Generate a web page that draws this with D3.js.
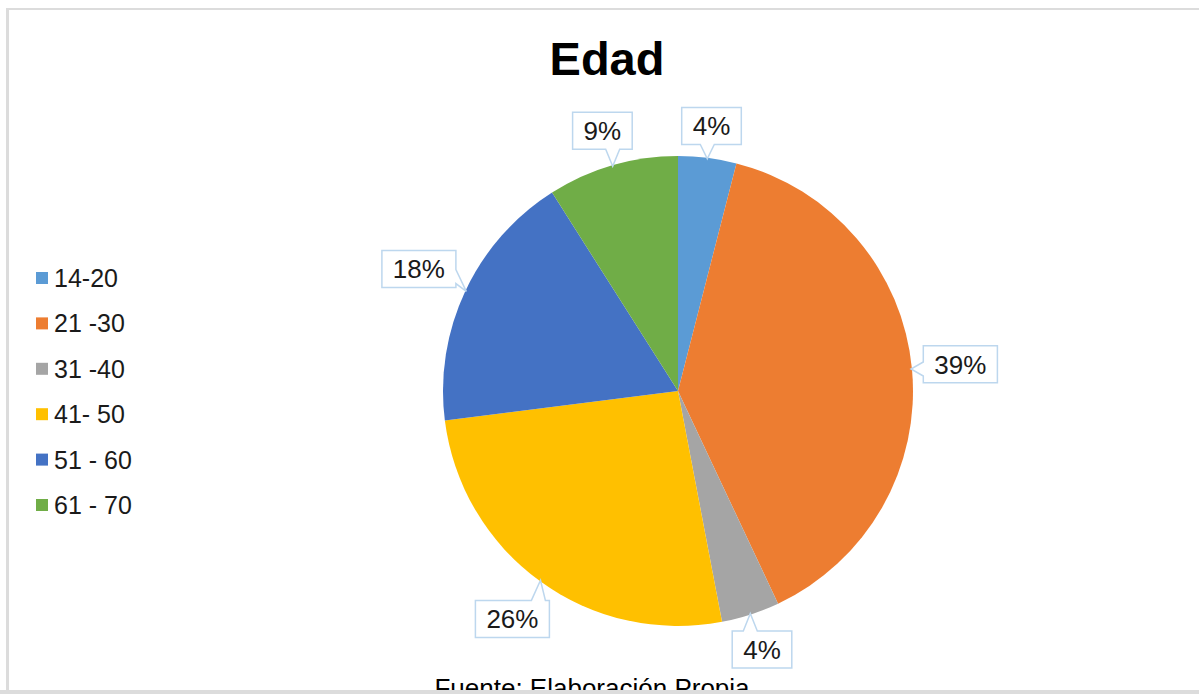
<!DOCTYPE html>
<html>
<head>
<meta charset="utf-8">
<script src="https://cdn.jsdelivr.net/npm/d3@7"></script>
<style>
  html, body { margin: 0; padding: 0; background: #fff; }
  svg { display: block; }
  text { font-family: "Liberation Sans", Arial, sans-serif; }
</style>
</head>
<body>
<svg id="chart" width="1199" height="694"></svg>
<script>
// Age groups and their share of respondents (percent)
const categories = ["14-20", "21 -30", "31 -40", "41- 50", "51 - 60", "61 - 70"];
const values = [4, 39, 4, 26, 18, 9];
const colors = ["#5B9BD5", "#ED7D31", "#A5A5A5", "#FFC000", "#4472C4", "#70AD47"];
const title = "Edad";
const source = "Fuente: Elaboración Propia";

const W = 1199, H = 694;
const cx = 678, cy = 391, R = 235;

const svg = d3.select("#chart");

// Frame lines
svg.append("rect").attr("x", 6).attr("y", 8).attr("width", 3).attr("height", H).attr("fill", "#dcdcdc");
svg.append("rect").attr("x", 6).attr("y", 8).attr("width", W).attr("height", 2).attr("fill", "#dcdcdc");

// Title
svg.append("text")
  .attr("x", 607).attr("y", 75)
  .attr("text-anchor", "middle")
  .attr("font-size", 47).attr("font-weight", "bold")
  .attr("fill", "#000")
  .text(title);

// Pie
const data = categories.map((c, i) => ({ cat: c, value: values[i], color: colors[i] }));
const pie = d3.pie().value(d => d.value).sort(null);
const arcs = pie(data);
const arc = d3.arc().innerRadius(0).outerRadius(R);

const g = svg.append("g").attr("transform", `translate(${cx},${cy})`);
g.selectAll("path.slice")
  .data(arcs)
  .join("path")
  .attr("class", "slice")
  .attr("d", arc)
  .attr("fill", d => d.data.color);

// Callout labels
const fontSize = 26;
const padX = 11, boxH = 37, gap = 10, tailHalf = 7;

function calloutPath(x0, y0, x1, y1, tip, side) {
  // corners clockwise, with the tail inserted on the chosen side
  const pts = [];
  const tailOn = (a, b, along) => {
    // along: center of tail base on the segment a->b
    const dx = b[0] - a[0], dy = b[1] - a[1];
    const len = Math.hypot(dx, dy), ux = dx / len, uy = dy / len;
    return [[along[0] - ux * tailHalf, along[1] - uy * tailHalf], tip, [along[0] + ux * tailHalf, along[1] + uy * tailHalf]];
  };
  const clamp = (v, lo, hi) => Math.max(lo + tailHalf + 4, Math.min(hi - tailHalf - 4, v));
  const TL = [x0, y0], TR = [x1, y0], BR = [x1, y1], BL = [x0, y1];
  pts.push(TL);
  if (side === "top") pts.push(...tailOn(TL, TR, [clamp(tip[0], x0, x1), y0]));
  pts.push(TR);
  if (side === "right") pts.push(...tailOn(TR, BR, [x1, clamp(tip[1], y0, y1)]));
  pts.push(BR);
  if (side === "bottom") pts.push(...tailOn(BR, BL, [clamp(tip[0], x0, x1), y1]));
  pts.push(BL);
  if (side === "left") pts.push(...tailOn(BL, TL, [x0, clamp(tip[1], y0, y1)]));
  return "M" + pts.map(p => p[0].toFixed(1) + "," + p[1].toFixed(1)).join("L") + "Z";
}

const labels = svg.append("g");
arcs.forEach(a => {
  const label = a.data.value + "%";
  const mid = (a.startAngle + a.endAngle) / 2;
  const dx = Math.sin(mid), dy = -Math.cos(mid);

  // measure text
  const t = labels.append("text")
    .attr("font-size", fontSize)
    .attr("fill", "#1a1a1a")
    .attr("text-anchor", "middle")
    .text(label);
  const tw = t.node().getComputedTextLength();
  const hw = tw / 2 + padX, hh = boxH / 2;

  const support = Math.abs(dx) * hw + Math.abs(dy) * hh;
  const dist = R + gap + support;
  const bx = cx + dx * dist, by = cy + dy * dist;
  const tip = [cx + dx * (R - 1), cy + dy * (R - 1)];

  // side of the box facing the slice
  const rx = (tip[0] - bx) / hw, ry = (tip[1] - by) / hh;
  let side;
  if (Math.abs(rx) > Math.abs(ry)) side = rx > 0 ? "right" : "left";
  else side = ry > 0 ? "bottom" : "top";

  labels.insert("path", "text")
    .attr("d", calloutPath(bx - hw, by - hh, bx + hw, by + hh, tip, side))
    .attr("fill", "#fff")
    .attr("stroke", "#bdd7ee")
    .attr("stroke-width", 1.5);

  t.attr("x", bx).attr("y", by + fontSize * 0.36);
});

// Legend
const legY0 = 278, legStep = 45.4;
const leg = svg.append("g");
data.forEach((d, i) => {
  const y = legY0 + i * legStep;
  leg.append("rect")
    .attr("x", 36).attr("y", y - 6).attr("width", 12).attr("height", 12)
    .attr("fill", d.color);
  leg.append("text")
    .attr("x", 54).attr("y", y + 9)
    .attr("font-size", 25)
    .attr("fill", "#1a1a1a")
    .text(d.cat);
});

// Source note
svg.append("text")
  .attr("x", 592).attr("y", 697)
  .attr("text-anchor", "middle")
  .attr("font-size", 26)
  .attr("fill", "#000")
  .text(source);

// Bottom frame line
svg.append("rect").attr("x", 0).attr("y", 690).attr("width", W).attr("height", 4).attr("fill", "#dcdcdc");
</script>
</body>
</html>
